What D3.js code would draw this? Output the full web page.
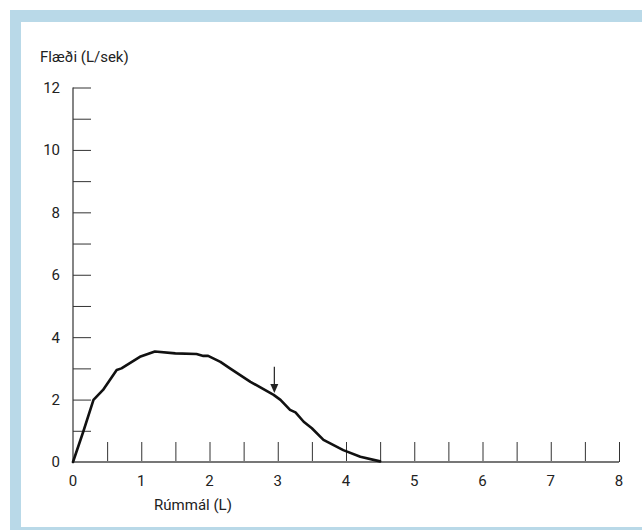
<!DOCTYPE html>
<html>
<head>
<meta charset="utf-8">
<script src="https://cdn.jsdelivr.net/npm/d3@7"></script>
<style>
  html, body { margin: 0; padding: 0; background: #fff; }
  svg { display: block; }
  text { font-family: Roboto, "Open Sans", sans-serif; fill: #222; }
</style>
</head>
<body>
<svg id="chart" width="642" height="530"></svg>
<script>
// Flow–volume curve: volume (L) vs flow (L/sek)
const volume = [0, 0.15, 0.30, 0.44, 0.64, 0.71, 0.98, 1.20, 1.50, 1.81, 1.91, 1.98, 2.16, 2.30, 2.60, 2.94, 3.04, 3.18, 3.26, 3.38, 3.50, 3.67, 3.96, 4.21, 4.50];
const flow   = [0, 0.97, 1.99, 2.31, 2.95, 3.00, 3.37, 3.54, 3.48, 3.46, 3.40, 3.40, 3.21, 3.00, 2.57, 2.15, 1.99, 1.67, 1.59, 1.29, 1.08, 0.71, 0.38, 0.17, 0.02];

const xTickLabels = [0, 1, 2, 3, 4, 5, 6, 7, 8];
const yTickLabels = [0, 2, 4, 6, 8, 10, 12];
const xMinorTicks = d3.range(0.5, 8.01, 0.5);
const yMinorTicks = d3.range(1, 12.01, 1);

// Arrow marking a point on the descending limb
const arrowVolume = 2.95;
const arrowFrom = 3.05;
const arrowTo = 2.21;

const xTitle = "Rúmmál (L)";
const yTitle = "Flæði (L/sek)";

const svg = d3.select("#chart");

// light blue frame
const frame = "#b9d9e8";
svg.append("rect").attr("x", 10).attr("y", 10).attr("width", 632).attr("height", 12).attr("fill", frame);
svg.append("rect").attr("x", 10).attr("y", 10).attr("width", 11).attr("height", 520).attr("fill", frame);
svg.append("rect").attr("x", 10).attr("y", 527).attr("width", 632).attr("height", 3).attr("fill", frame);

const x = d3.scaleLinear().domain([0, 8]).range([73, 619]);
const y = d3.scaleLinear().domain([0, 12]).range([462, 87.5]);

const g = svg.append("g");
const fs = 15;

// y axis: ticks point right, every 1 unit; labels every 2
const yAxis = g.append("g").attr("transform", `translate(${x(0)},0)`)
  .call(d3.axisRight(y).tickValues(yMinorTicks).tickSize(18).tickFormat(""));
yAxis.select(".domain").remove();
yAxis.selectAll(".tick line").attr("stroke", "#333").attr("stroke-width", 1);
g.append("line").attr("x1", x(0)).attr("x2", x(0)).attr("y1", y(0)).attr("y2", y(12))
  .attr("stroke", "#333").attr("stroke-width", 1.2);

g.selectAll(".ylab").data(yTickLabels).join("text")
  .attr("class", "ylab")
  .attr("x", 60).attr("y", d => y(d)).attr("dy", "0.36em")
  .attr("text-anchor", "end").attr("font-size", fs).text(d => d);

// x axis: ticks point up every 0.5 unit
const xAxis = g.append("g").attr("transform", `translate(0,${y(0)})`)
  .call(d3.axisTop(x).tickValues(xMinorTicks).tickSize(20).tickFormat(""));
xAxis.select(".domain").remove();
xAxis.selectAll(".tick line").attr("stroke", "#333").attr("stroke-width", 1);
g.append("line").attr("x1", x(0)).attr("x2", x(8)).attr("y1", y(0)).attr("y2", y(0))
  .attr("stroke", "#777").attr("stroke-width", 2);

g.selectAll(".xlab").data(xTickLabels).join("text")
  .attr("class", "xlab")
  .attr("x", d => x(d)).attr("y", 486)
  .attr("text-anchor", "middle").attr("font-size", fs).text(d => d);

svg.append("text").attr("x", 193).attr("y", 510).attr("text-anchor", "middle")
  .attr("font-size", fs).text(xTitle);
svg.append("text").attr("x", 40).attr("y", 62)
  .attr("font-size", fs).text(yTitle);

// curve
const pts = volume.map((v, i) => [v, flow[i]]);
g.append("path").datum(pts)
  .attr("fill", "none").attr("stroke", "#111").attr("stroke-width", 2.6)
  .attr("stroke-linejoin", "round").attr("stroke-linecap", "round")
  .attr("d", d3.line().x(d => x(d[0])).y(d => y(d[1])));

// arrow
const ax = x(arrowVolume);
g.append("line").attr("x1", ax).attr("x2", ax).attr("y1", y(arrowFrom)).attr("y2", y(arrowTo) - 8)
  .attr("stroke", "#222").attr("stroke-width", 1.2);
g.append("path")
  .attr("d", `M${ax - 4},${y(arrowTo) - 9} L${ax + 4},${y(arrowTo) - 9} L${ax},${y(arrowTo)} Z`)
  .attr("fill", "#222");
</script>
</body>
</html>
